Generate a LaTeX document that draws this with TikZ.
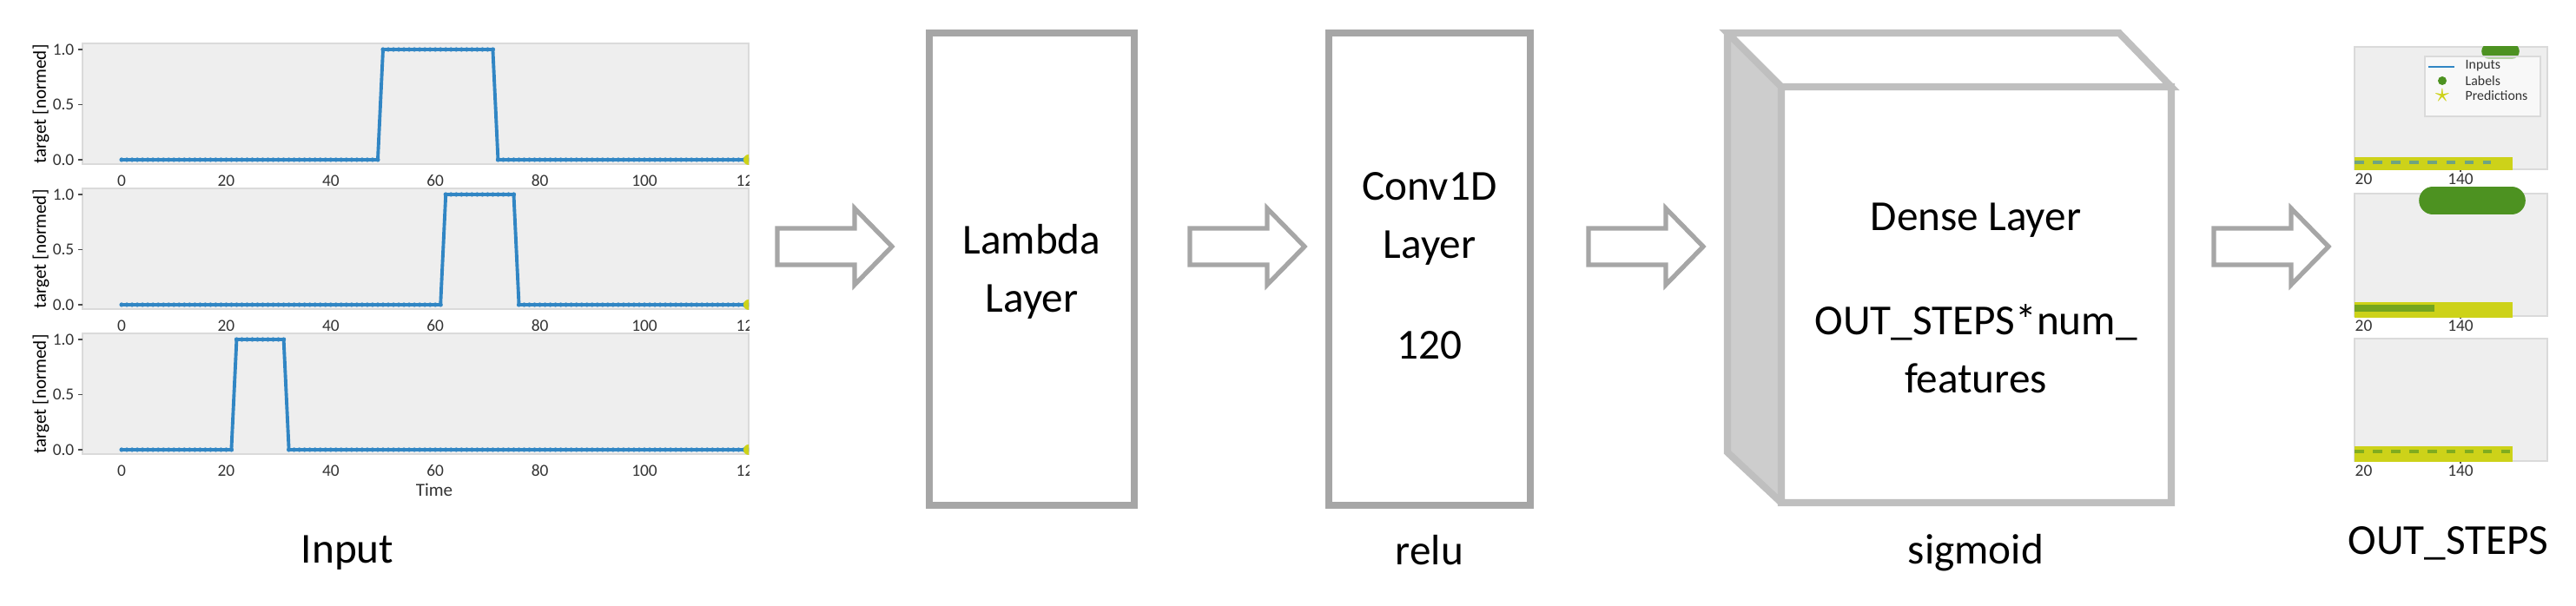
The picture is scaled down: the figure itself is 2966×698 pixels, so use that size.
\documentclass[tikz,border=0pt]{standalone}
\usepackage{fontspec}
\setmainfont{Carlito}
\definecolor{boxgray}{RGB}{166,166,166}
\definecolor{cubegray}{RGB}{191,191,191}
\definecolor{sidegray}{RGB}{205,205,205}
\definecolor{axbg}{RGB}{238,238,238}
\definecolor{axedge}{RGB}{218,218,218}
\definecolor{sigblue}{RGB}{49,134,196}
\definecolor{lblgreen}{RGB}{77,146,33}
\definecolor{predyel}{RGB}{205,210,25}
\tikzset{
  layer/.style={draw=boxgray, line width=2.3pt, inner sep=0pt},
  txt/.style={font=\fontsize{14}{17}\selectfont, align=center, inner sep=0pt},
  ax/.style={fill=axbg, draw=axedge, line width=0.6pt},
  tick/.style={font=\fontsize{5.5}{6}\selectfont, inner sep=0pt, text=black!80},
  blk/.style={draw=boxgray, line width=1.5pt, fill=white, line join=miter},
}
% block arrow: left x, centre y
\newcommand\blockarr[2]{%
  \draw[blk] (#1,#2-21) -- ++(89,0) -- ++(0,-23) -- ++(43,44) -- ++(-43,44)
    -- ++(0,-23) -- ++(-89,0) -- cycle;}
% input plot: top y, rise step, fall step
\newcommand\inplot[3]{%
  \draw[ax] (95,#1) rectangle (862,#1+139);
  \foreach \v/\l in {7/1.0,70.5/0.5,134/0.0}{
    \draw[black!70] (90,#1+\v) -- (95,#1+\v);
    \node[tick, anchor=east] at (86,#1+\v) {\l};}
  \begin{scope}
    \clip (60,#1) rectangle (862,#1+175);
    \foreach \t in {0,20,...,120}{
      \node[tick] at (140+6.02*\t,#1+158) {\t};}
    \draw[sigblue, line width=1.1pt] (140,#1+134) -- (140+6.02*#2-6.02,#1+134)
      -- (140+6.02*#2,#1+7) -- (140+6.02*#3,#1+7) -- (140+6.02*#3+6.02,#1+134)
      -- (862,#1+134);
    \foreach \t in {0,...,120}{
      \pgfmathsetmacro\yy{(\t>=#2 && \t<=#3) ? 7 : 134}
      \fill[sigblue] (140+6.02*\t,#1+\yy) circle (2.6);}
    \fill[predyel] (862,#1+134) circle (6);
  \end{scope}
  \node[font=\fontsize{6}{7}\selectfont, rotate=90, inner sep=0pt] at (47,#1+70) {target [normed]};}
% output plot: top y
\newcommand\outplot[1]{%
  \draw[ax] (2711,#1) rectangle (2933,#1+141);
  \node[tick, anchor=west] at (2711,#1+152) {20};
  \node[tick] at (2833,#1+152) {140};
  \draw[black!70] (2833,#1+141) -- (2833,#1+144);}
\begin{document}
\begin{tikzpicture}[x=0.01cm, y=-0.01cm]
\useasboundingbox (0,0) rectangle (2966,698);

% input plots
\inplot{50}{50}{71}
\inplot{217}{62}{75}
\inplot{384}{22}{31}
\node[tick, font=\fontsize{6}{7}\selectfont] at (500,564) {Time};
\node[txt] (inlab) at (400,637) {Input};

% lambda layer
\node[layer, minimum width=2.36cm, minimum height=5.43cm] (lam) at (1188,310) {};
\node[txt] at (1188,313) {Lambda\\[2pt]Layer};

% conv layer
\node[layer, minimum width=2.31cm, minimum height=5.43cm] (conv) at (1646,310) {};
\node[txt] at (1646,252) {Conv1D\\[2pt]Layer};
\node[txt] at (1646,398) {120};
\node[txt] (relu) at (1646,634) {relu};

% dense cube
\fill[sidegray] (1989,38) -- (2051,100) -- (2051,579) -- (1989,521) -- cycle;
\draw[draw=cubegray, line width=2.3pt, line join=miter]
  (1989,38) -- (2440,38) -- (2500,100) -- (2051,100) -- cycle
  (2051,100) rectangle (2500,579)
  (1989,38) -- (1989,521) -- (2051,579);
\node[txt] (dense) at (2275,254) {Dense Layer};
\node[txt] at (2275,402) {OUT\_STEPS*num\_\\[2pt]features};
\node[txt] (sig) at (2275,637) {sigmoid};

% arrows
\blockarr{895}{284}
\blockarr{1370}{284}
\blockarr{1829}{284}
\blockarr{2549}{284}

% output plots
\outplot{54}
\outplot{223}
\outplot{390}
\begin{scope}
  \clip (2711,54) rectangle (2933,196);
  \draw[lblgreen, line width=5pt, line cap=round] (2866,59) -- (2892,59);
  \draw[predyel, line width=5pt] (2711,190) -- (2893,190);
  \draw[sigblue!60!predyel, line width=1pt, dashed] (2711,187) -- (2868,187);
\end{scope}
\draw[fill=white, fill opacity=0.6, draw=axedge] (2792,65) rectangle (2925,134);
\draw[sigblue, line width=0.8pt] (2796,77) -- (2826,77);
\fill[lblgreen] (2812,93) circle (5);
\node[predyel, font=\fontsize{9}{9}\selectfont, inner sep=0pt] at (2812,110) {$\star$};
\node[tick, anchor=west, font=\fontsize{4.5}{5}\selectfont] at (2838,76) {Inputs};
\node[tick, anchor=west, font=\fontsize{4.5}{5}\selectfont] at (2838,93) {Labels};
\node[tick, anchor=west, font=\fontsize{4.5}{5}\selectfont] at (2838,110) {Predictions};
\draw[lblgreen, line width=9pt, line cap=round] (2801,231) -- (2892,231);
\draw[predyel, line width=5pt] (2711,357) -- (2893,357);
\draw[lblgreen!70!predyel, line width=2pt] (2711,355) -- (2803,355);
\draw[predyel, line width=5pt] (2711,523) -- (2893,523);
\draw[lblgreen!60!predyel, line width=1pt, dashed] (2711,520) -- (2893,520);
\node[txt] (outlab) at (2819,626) {OUT\_STEPS};
\end{tikzpicture}
\end{document}
